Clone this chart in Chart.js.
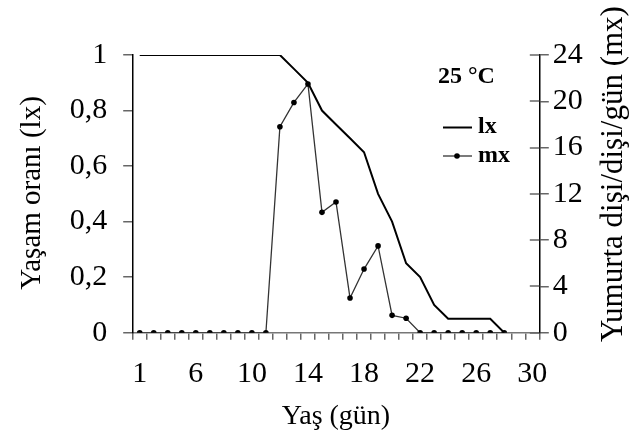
<!DOCTYPE html>
<html>
<head>
<meta charset="utf-8">
<script src="https://cdn.jsdelivr.net/npm/chart.js@4/dist/chart.umd.min.js"></script>
<style>
  html, body { margin: 0; padding: 0; background: #fff; }
  #wrap { width: 638px; height: 441px; position: relative; }
</style>
</head>
<body>
<div id="wrap"><canvas id="c" width="638" height="441"></canvas></div>
<script>
// ---- data ----
const categories = [1,3,4,5,6,7,8,9,10,11,12,13,14,15,16,17,18,19,20,21,22,23,24,25,26,27,28,29,30];
const shownLabels = [1,6,10,14,18,22,26,30];
const lxValues = [1,1,1,1,1,1,1,1,1,1,1,0.95,0.90,0.80,0.75,0.70,0.65,0.50,0.40,0.25,0.20,0.10,0.05,0.05,0.05,0.05,0,null,null];
const mxValues = [0,0,0,0,0,0,0,0,0,0,17.8,19.9,21.5,10.4,11.3,3.0,5.5,7.5,1.5,1.25,0,0,0,0,0,0,0,null,null];
const leftTicks = [0,0.2,0.4,0.6,0.8,1];
const rightTicks = [0,4,8,12,16,20,24];
const titleLeft = 'Yaşam oranı (lx)';
const titleRight = 'Yumurta dişi/dişi/gün (mx)';
const titleX = 'Yaş (gün)';
const legendTitle = '25 °C';
const seriesNames = ['lx','mx'];

const SERIF = '"Liberation Serif", "Times New Roman", serif';

function fmtLeft(v){
  if (Math.abs(v) < 1e-9) return '0';
  if (Math.abs(v-1) < 1e-9) return '1';
  return v.toFixed(1).replace('.', ',');
}

const decorPlugin = {
  id: 'decor',
  afterDraw(chart) {
    const ctx = chart.ctx;
    const ca = chart.chartArea;
    const y2 = chart.scales.y2;
    ctx.save();
    // inward half of cross ticks on right axis
    ctx.strokeStyle = '#666';
    ctx.lineWidth = 1.5;
    rightTicks.forEach(v => {
      const py = Math.round(y2.getPixelForValue(v));
      ctx.beginPath();
      ctx.moveTo(ca.right - 9.5, py);
      ctx.lineTo(ca.right, py);
      ctx.stroke();
    });
    // axis titles
    ctx.fillStyle = '#000';
    ctx.textAlign = 'center';
    ctx.textBaseline = 'middle';
    ctx.font = '29px ' + SERIF;
    ctx.save();
    ctx.translate(32, 193);
    ctx.rotate(-Math.PI / 2);
    ctx.fillText(titleLeft, 0, 0);
    ctx.restore();
    ctx.font = '31px ' + SERIF;
    ctx.save();
    ctx.translate(614, 174);
    ctx.rotate(-Math.PI / 2);
    ctx.fillText(titleRight, 0, 0);
    ctx.restore();
    ctx.font = '28px ' + SERIF;
    ctx.textBaseline = 'alphabetic';
    ctx.fillText(titleX, (ca.left + ca.right) / 2, 424);
    // legend
    ctx.textAlign = 'left';
    ctx.font = 'bold 24px ' + SERIF;
    ctx.fillText(legendTitle, 438, 83);
    ctx.fillText(seriesNames[0], 478, 133);
    ctx.fillText(seriesNames[1], 478, 162);
    ctx.strokeStyle = '#000';
    ctx.lineWidth = 2;
    ctx.beginPath(); ctx.moveTo(443, 127.5); ctx.lineTo(472, 127.5); ctx.stroke();
    ctx.strokeStyle = '#333';
    ctx.lineWidth = 1.3;
    ctx.beginPath(); ctx.moveTo(443, 156); ctx.lineTo(472, 156); ctx.stroke();
    ctx.fillStyle = '#000';
    ctx.beginPath(); ctx.arc(457, 156, 2.8, 0, Math.PI * 2); ctx.fill();
    ctx.restore();
  }
};

new Chart(document.getElementById('c'), {
  type: 'line',
  data: {
    labels: categories,
    datasets: [
      {
        label: seriesNames[0], data: lxValues, yAxisID: 'y',
        borderColor: '#000', borderWidth: 2, pointRadius: 0, tension: 0, spanGaps: false
      },
      {
        label: seriesNames[1], data: mxValues, yAxisID: 'y2',
        borderColor: '#333', borderWidth: 1.3, pointRadius: 2.8, pointBackgroundColor: '#000',
        pointBorderColor: '#000', pointBorderWidth: 0, tension: 0, spanGaps: false
      }
    ]
  },
  plugins: [decorPlugin],
  options: {
    responsive: false,
    animation: false,
    devicePixelRatio: 1,
    layout: { padding: { top: 55, left: 0, right: 0, bottom: 0 } },
    plugins: { legend: { display: false }, tooltip: { enabled: false } },
    scales: {
      x: {
        type: 'category',
        offset: true,
        afterFit(s) { s.height = 441 - 332.7; },
        grid: { offset: true, drawOnChartArea: false, drawTicks: true, tickLength: 7, color: '#666', lineWidth: 1.5 },
        border: { display: true, color: '#777', width: 1.5 },
        ticks: {
          autoSkip: false, maxRotation: 0, padding: 16, color: '#000',
          font: { family: SERIF, size: 30 },
          callback(val, idx) { const c = categories[idx]; return shownLabels.includes(c) ? String(c) : ''; }
        }
      },
      y: {
        position: 'left', min: 0, max: 1,
        afterFit(s) { s.width = 132.7; },
        afterBuildTicks(s) { s.ticks = leftTicks.map(v => ({ value: v })); },
        grid: { drawOnChartArea: false, tickLength: 9.5, color: '#666', lineWidth: 1.5 },
        border: { display: true, color: '#000', width: 1.5 },
        ticks: { padding: 16, color: '#000', font: { family: SERIF, size: 30 }, callback: v => fmtLeft(v) }
      },
      y2: {
        position: 'right', min: 0, max: 24,
        afterFit(s) { s.width = 638 - 539.3; },
        afterBuildTicks(s) { s.ticks = rightTicks.map(v => ({ value: v })); },
        grid: { drawOnChartArea: false, tickLength: 9.5, color: '#666', lineWidth: 1.5 },
        border: { display: true, color: '#000', width: 1.5 },
        ticks: { padding: 4, color: '#000', font: { family: SERIF, size: 30 }, callback: v => String(v) }
      }
    }
  }
});
</script>
</body>
</html>
